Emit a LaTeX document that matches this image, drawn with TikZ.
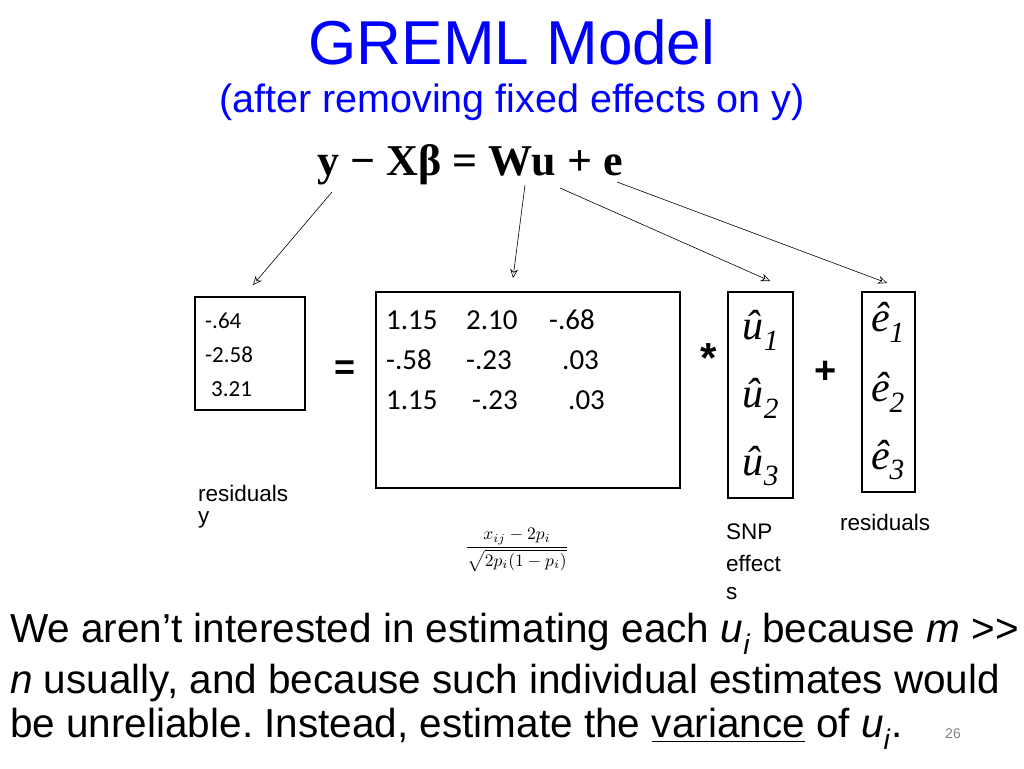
\documentclass[tikz,border=0pt]{standalone}
\usepackage{amsmath,graphicx}
\usepackage{fontspec}
\setmainfont{Liberation Sans}
\newfontfamily\carfont{Carlito}
\newfontfamily\tms{Liberation Serif}
\newfontfamily\djv{DejaVu Serif}
\usetikzlibrary{arrows.meta}
\frenchspacing
\begin{document}
\begin{tikzpicture}[x=1pt,y=-1pt,
  arr/.style={-{Stealth[open,length=9pt,width=8pt]},line width=0.6pt},
  num/.style={anchor=west,font=\carfont\fontsize{29}{30}\selectfont,inner sep=0pt},
  lab/.style={anchor=west,font=\fontsize{22.5}{24}\selectfont,inner sep=0pt},
  body/.style={anchor=west,font=\fontsize{40.5}{44}\selectfont,inner sep=0pt},
  hat/.style={font=\fontsize{42}{44}\selectfont,inner sep=0pt}]
\useasboundingbox (0,0) rectangle (1024,768);
\node[font=\fontsize{62}{66}\selectfont,text=blue] (title) at (512,42) {GREML Model};
\node[font=\fontsize{39.5}{42}\selectfont,text=blue] (sub) at (512,102) {(after removing fixed effects on y)};
\node[font=\tms\bfseries\fontsize{44}{46}\selectfont] (eq) at (470,165) {y − Xβ = Wu + e};
\coordinate (a1) at (332,192); \coordinate (a2) at (525,185);
\coordinate (a3) at (560,188); \coordinate (a4) at (617,182);
\coordinate (t1) at (253,285); \coordinate (t2) at (513,278);
\coordinate (t3) at (770,281); \coordinate (t4) at (887,283);
\draw[arr] (a1) -- (t1); \draw[arr] (a2) -- (t2);
\draw[arr] (a3) -- (t3); \draw[arr] (a4) -- (t4);
% y box
\draw[line width=1.2pt] (195,297) rectangle (305,410);
\node[num,font=\carfont\fontsize{23}{24}\selectfont] (y1) at (205,321) {-.64};
\node[num,font=\carfont\fontsize{23}{24}\selectfont] (y2) at (205,355) {-2.58};
\node[num,font=\carfont\fontsize{23}{24}\selectfont] (y3) at (211,389) {3.21};
\node[font=\bfseries\fontsize{36}{36}\selectfont] (eqs) at (345,370) {=};
% W box
\draw[line width=2pt] (376,292) rectangle (680,488);
\node[num] at (386,320) {1.15}; \node[num] at (466,320) {2.10}; \node[num] at (549,320) {-.68};
\node[num] at (386,360) {-.58}; \node[num] at (466,360) {-.23}; \node[num] at (562,360) {.03};
\node[num] at (386,400) {1.15}; \node[num] at (472,400) {-.23}; \node[num] at (568,400) {.03};
\node[font=\bfseries\fontsize{42}{42}\selectfont] (star) at (709,358) {*};
% u box
\draw[line width=1.2pt] (728,292) rectangle (793,498);
\node[hat] (u1) at (761,330) {\tms\itshape\^{u}$_{\text{\tms 1}}$};
\node[hat] (u2) at (761,398) {\tms\itshape\^{u}$_{\text{\tms 2}}$};
\node[hat] (u3) at (761,466) {\tms\itshape\^{u}$_{\text{\tms 3}}$};
\node[font=\bfseries\fontsize{38}{38}\selectfont] (plus) at (826,372) {+};
% e box
\draw[line width=1.2pt] (862,292) rectangle (915,492);
\node[hat] (e1) at (888,322) {\tms\itshape\^{e}$_{\text{\tms 1}}$};
\node[hat] (e2) at (888,392) {\tms\itshape\^{e}$_{\text{\tms 2}}$};
\node[hat] (e3) at (888,460) {\tms\itshape\^{e}$_{\text{\tms 3}}$};
% labels
\node[lab] at (198,493) {residuals};
\node[lab] at (198,520) {y};
\node[lab] at (726,532) {SNP};
\node[lab] at (726,563) {effect};
\node[lab] at (726,594) {s};
\node[lab] at (840,522) {residuals};
\node (frac) at (517,550) {\scalebox{1.75}{$\dfrac{x_{ij}-2p_i}{\sqrt{2p_i(1-p_i)}}$}};
% body text
\node[body] at (10,634) {We aren’t interested in estimating each \textit{u}\textsubscript{\textit{i}} because \textit{m} {>}{>}};
\node[body] at (10,683) {\textit{n} usually, and because such individual estimates would};
\node[body] at (10,729) {be unreliable. Instead, estimate the \underline{variance} of \textit{u}\textsubscript{\textit{i}}.};
\node[font=\fontsize{14}{16}\selectfont,text=gray] at (953,734) {26};
\end{tikzpicture}
\end{document}
